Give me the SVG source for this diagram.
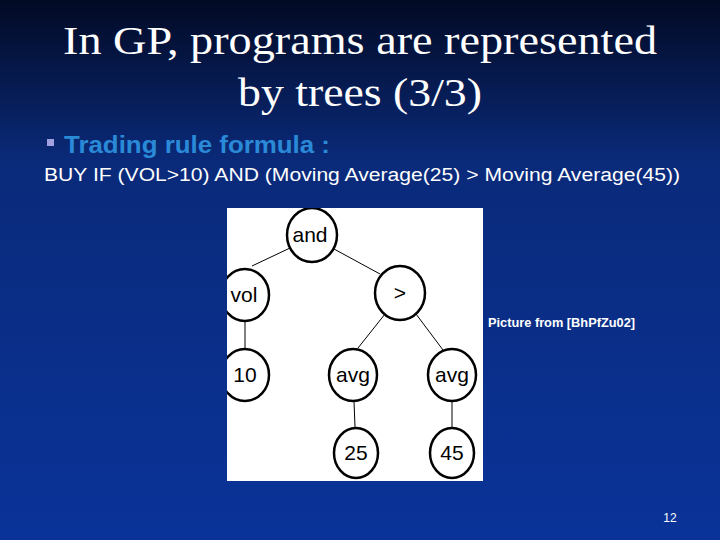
<svg xmlns="http://www.w3.org/2000/svg" width="720" height="540" viewBox="0 0 720 540">
<defs>
<linearGradient id="bg" x1="0" y1="0" x2="0" y2="1">
<stop offset="0" stop-color="#020a24"/><stop offset="0.3" stop-color="#0a2a7a"/><stop offset="1" stop-color="#0a3399"/>
</linearGradient>
<clipPath id="pic"><rect x="227" y="208" width="256" height="273"/></clipPath>
</defs>
<style>
.n ellipse{fill:#fff;stroke:#000;stroke-width:2.5}
.n text{font-family:"Liberation Sans",Arial,sans-serif;font-size:21px;fill:#000;text-anchor:middle}
.e line{stroke:#000;stroke-width:1}
</style>
<rect width="720" height="540" fill="url(#bg)"/>
<text x="63" y="54" font-family="Liberation Serif,serif" font-size="39" fill="#fff" textLength="594" lengthAdjust="spacingAndGlyphs">In GP, programs are represented</text>
<text x="238" y="106" font-family="Liberation Serif,serif" font-size="39" fill="#fff" textLength="244" lengthAdjust="spacingAndGlyphs">by trees (3/3)</text>
<rect x="47" y="139" width="7" height="7" fill="#a0a0e0"/>
<text x="64" y="153" font-family="Liberation Sans,Arial,sans-serif" font-size="23" font-weight="bold" fill="#2a8ad8" textLength="266" lengthAdjust="spacingAndGlyphs">Trading rule formula :</text>
<text x="44" y="181" font-family="Liberation Sans,Arial,sans-serif" font-size="18" fill="#fff" textLength="636" lengthAdjust="spacingAndGlyphs">BUY IF (VOL&gt;10) AND (Moving Average(25) &gt; Moving Average(45))</text>
<rect x="227" y="208" width="256" height="273" fill="#fff"/>
<g clip-path="url(#pic)">
<g id="connectors" class="e">
<line x1="290" y1="248" x2="252" y2="266"/>
<line x1="334" y1="249" x2="380" y2="274"/>
<line x1="245" y1="321" x2="245" y2="349"/>
<line x1="385" y1="314" x2="358" y2="348"/>
<line x1="416" y1="314" x2="443" y2="350"/>
<line x1="354" y1="401" x2="355" y2="427"/>
<line x1="452" y1="401" x2="452" y2="427"/>
</g>
<g id="and" class="n"><ellipse cx="312" cy="235" rx="25" ry="27"/><text x="310" y="242">and</text></g>
<g id="vol" class="n"><ellipse cx="245" cy="295" rx="24" ry="26"/><text x="244" y="302">vol</text></g>
<g id="gt" class="n"><ellipse cx="400" cy="293" rx="25" ry="27"/><text x="400" y="300">&gt;</text></g>
<g id="n10" class="n"><ellipse cx="245" cy="375" rx="24" ry="26"/><text x="245" y="382">10</text></g>
<g id="avg1" class="n"><ellipse cx="353" cy="375" rx="24" ry="26"/><text x="353" y="382">avg</text></g>
<g id="avg2" class="n"><ellipse cx="452" cy="375" rx="24" ry="26"/><text x="452" y="382">avg</text></g>
<g id="n25" class="n"><ellipse cx="356" cy="453" rx="22" ry="25"/><text x="356" y="460">25</text></g>
<g id="n45" class="n"><ellipse cx="452" cy="453" rx="22" ry="25"/><text x="452" y="460">45</text></g>
</g>
<text x="488" y="327" font-family="Liberation Sans,Arial,sans-serif" font-size="12" font-weight="bold" fill="#fff" textLength="147" lengthAdjust="spacingAndGlyphs">Picture from [BhPfZu02]</text>
<text x="670" y="522" font-family="Liberation Sans,Arial,sans-serif" font-size="12" fill="#fff" text-anchor="middle">12</text>
</svg>
